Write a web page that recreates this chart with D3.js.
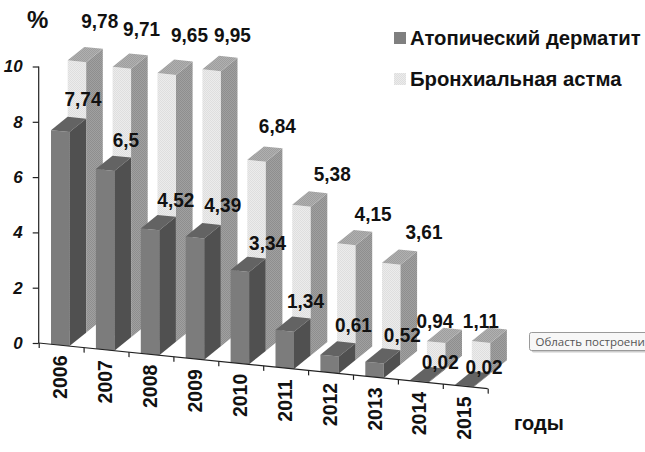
<!DOCTYPE html>
<html>
<head>
<meta charset="utf-8">
<script src="https://cdn.jsdelivr.net/npm/d3@7"></script>
<style>
  html, body { margin: 0; padding: 0; background: #fff; overflow: hidden; }
  text { font-family: "Liberation Sans", Arial, sans-serif; font-weight: bold; fill: #111; }
</style>
</head>
<body>
<svg id="chart" width="645" height="452"></svg>
<script>
const years = ['2006', '2007', '2008', '2009', '2010', '2011', '2012', '2013', '2014', '2015'];
const dermatitis = [7.74, 6.5, 4.52, 4.39, 3.34, 1.34, 0.61, 0.52, 0.02, 0.02];
const asthma = [9.78, 9.71, 9.65, 9.95, 6.84, 5.38, 4.15, 3.61, 0.94, 1.11];
const seriesNames = ['Атопический дерматит', 'Бронхиальная астма'];
const yTicks = [0, 2, 4, 6, 8, 10];

// the labels were placed by hand in the original, so they get a hand nudge from the bar top
const dermatitisNudge = [[32, -24], [30, -22], [35, -21], [37, -25], [37, -20], [30, -22], [33, -23], [37, -20], [30, -11], [29, -11]];
const asthmaNudge = [[32, -32], [29, -31], [32, -31], [30, -27], [30, -27], [40, -24], [36, -22], [42, -24], [8, -13], [9, -13]];

const originX = 38.7, originY = 343;
const axisLen = 449;
const slope = 0.1014;            // front floor edge runs downhill
const depth = [16.7, -13.5];     // one step towards the back
const barW = 18.5, sideW = 16.6;

const svg = d3.select('#chart');
const defs = svg.append('defs');

// fine dither, the original fills are a small 2x2 texture
function dither(id, a, b) {
  const p = defs.append('pattern').attr('id', id)
    .attr('width', 2).attr('height', 2).attr('patternUnits', 'userSpaceOnUse');
  p.append('rect').attr('width', 2).attr('height', 2).attr('fill', a);
  p.append('rect').attr('width', 1).attr('height', 1).attr('fill', b);
  p.append('rect').attr('x', 1).attr('y', 1).attr('width', 1).attr('height', 1).attr('fill', b);
}
dither('lightFront', '#ececec', '#dedede');
dither('lightSide', '#a0a0a0', '#8e8e8e');
dither('lightTop', '#b0b0b0', '#9e9e9e');

const x = d3.scaleBand().domain(years).range([0, axisLen]);
const y = d3.scaleLinear().domain([0, 10]).range([originY, 66.5]);
const tickPos = d3.scaleLinear().domain([0, 10]).range([0, axisLen]);

// screen position of a point on a bar: px along the axis, value, how many steps back
function pt(px, v, back) {
  return [
    originX + px + depth[0] * back,
    y(v) + px * slope + depth[1] * back
  ];
}

function faces(year, v, back, colors) {
  const l = x(year) + 12.3;
  const r = l + barW;
  const a = pt(l, 0, back), b = pt(r, 0, back), c = pt(r, v, back), d = pt(l, v, back);
  const s = [sideW, depth[1] * sideW / depth[0]];
  const shift = p => [p[0] + s[0], p[1] + s[1]];
  return [
    { pts: [a, b, c, d], fill: colors.front },
    { pts: [b, shift(b), shift(c), c], fill: colors.side },
    { pts: [d, c, shift(c), shift(d)], fill: colors.top }
  ];
}

const darkColors = { front: '#7c7c7c', side: '#505050', top: '#636363' };
const lightColors = { front: 'url(#lightFront)', side: 'url(#lightSide)', top: 'url(#lightTop)' };

const draw = d3.line();

function bars(values, back, colors) {
  const g = svg.append('g');
  g.selectAll('g')
    .data(years)
    .enter()
    .append('g')
    .selectAll('path')
    .data((d, i) => faces(d, values[i], back, colors))
    .enter()
    .append('path')
    .attr('d', d => draw(d.pts) + 'Z')
    .attr('fill', d => d.fill);
}

function valueLabels(values, back, nudge) {
  svg.append('g').selectAll('text')
    .data(values)
    .enter()
    .append('text')
    .attr('transform', (d, i) => {
      const p = pt(x(years[i]) + 12.3, d, back);
      return `translate(${p[0] + nudge[i][0]},${p[1] + nudge[i][1]}) scale(0.95,1)`;
    })
    .attr('text-anchor', 'middle')
    .attr('font-size', 20)
    .text(d => String(d).replace('.', ','));
}

bars(asthma, 1, lightColors);
bars(dermatitis, 0, darkColors);

// y axis
const yAxis = svg.append('g')
  .attr('transform', `translate(${originX},0)`)
  .call(d3.axisLeft(y).tickValues(yTicks).tickSize(6).tickFormat(d3.format('d')));
yAxis.selectAll('line, path').attr('stroke', '#222').attr('stroke-width', 1.2);
yAxis.select('.domain').attr('d', `M0,${y(10)}V${y(0)}`);
yAxis.selectAll('text')
  .attr('x', -16)
  .attr('font-size', 17)
  .attr('font-style', 'italic')
  .attr('font-family', '"Liberation Sans", Arial, sans-serif')
  .attr('fill', '#111');

// floor axis, sheared so it runs along the front edge
const xAxis = svg.append('g')
  .attr('transform', `translate(${originX},${originY}) skewY(${Math.atan(slope) * 180 / Math.PI})`)
  .call(d3.axisBottom(tickPos).ticks(10).tickSize(5).tickFormat(''));
xAxis.selectAll('line, path').attr('stroke', '#222').attr('stroke-width', 1.2);
xAxis.select('.domain').attr('d', `M0,0H${axisLen}`);

svg.append('g').selectAll('text')
  .data(years)
  .enter()
  .append('text')
  .attr('transform', d => {
    const p = pt(x(d) + 28.5, 0, 0);
    return `translate(${p[0]},${p[1] + 53}) rotate(-90)`;
  })
  .attr('font-size', 19.5)
  .text(d => d);

valueLabels(asthma, 1, asthmaNudge);
valueLabels(dermatitis, 0, dermatitisNudge);

svg.append('text').attr('x', 27).attr('y', 28).attr('font-size', 24).text('%');
svg.append('text').attr('x', 514).attr('y', 430).attr('font-size', 20).text('годы');

// legend
const legend = svg.append('g');
const legendFill = ['#7f7f7f', 'url(#lightFront)'];
const legendY = [32, 73];
seriesNames.forEach((name, i) => {
  legend.append('rect').attr('x', 394).attr('y', legendY[i])
    .attr('width', 12).attr('height', 12).attr('fill', legendFill[i]);
  legend.append('text').attr('x', 410).attr('y', legendY[i] + 13)
    .attr('font-size', 20.3).text(name);
});

// Excel tooltip caught in the screenshot, it runs off the right edge
const tip = svg.append('g').attr('transform', 'translate(529.5,332.5)');
tip.append('rect').attr('x', 2).attr('y', 2).attr('width', 150).attr('height', 18).attr('rx', 2).attr('fill', '#ccc');
tip.append('rect').attr('width', 150).attr('height', 18).attr('rx', 2)
  .attr('fill', '#f7f7f7').attr('stroke', '#9a9a9a');
tip.append('text').attr('x', 6).attr('y', 13)
  .style('font-family', '"Open Sans", sans-serif').style('font-weight', 'normal').style('fill', '#555')
  .attr('font-size', 11.5).text('Область построения');
</script>
</body>
</html>
